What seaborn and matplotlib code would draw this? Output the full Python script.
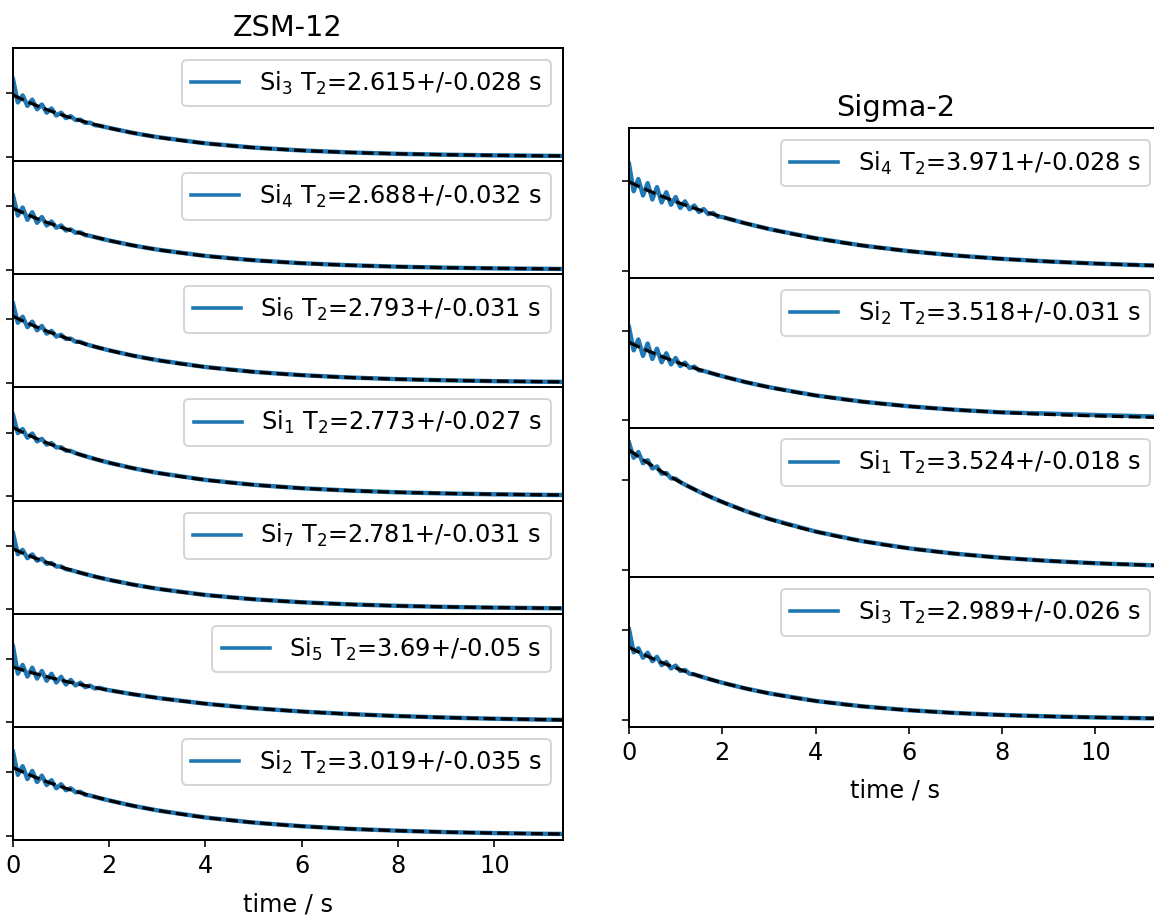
import numpy as np
import pandas as pd
import matplotlib
matplotlib.use("Agg")
import matplotlib.pyplot as plt
import seaborn as sns

# ---------------- data ----------------
time = [0.0, 0.1, 0.2, 0.3, 0.4, 0.5, 0.6, 0.7, 0.8, 0.9, 1.0, 1.1, 1.2, 1.3, 1.4,
        1.5, 1.6, 1.7, 1.8, 1.9, 2.0, 2.5, 3.0, 4.0, 5.0, 6.0, 7.0, 8.0, 9.0, 10.0,
        11.0, 11.5]

zsm_sites = ["3", "4", "6", "1", "7", "5", "2"]
zsm_t2 = [2.615, 2.688, 2.793, 2.773, 2.781, 3.69, 3.019]
zsm_err = [0.028, 0.032, 0.031, 0.027, 0.031, 0.05, 0.035]
zsm_amp = [0.97, 0.97, 1.05, 1.08, 0.95, 0.87, 1.07]

zsm_si3 = [1.22, .854, .964, .800, .897, .746, .821, .692, .759, .648, .692, .607, .638, .575,
           .583, .532, .536, .496, .487, .469, .452, .373, .308, .210, .143, .098, .067, .045,
           .031, .021, .014, .012]
zsm_si4 = [1.17, .855, .980, .788, .906, .740, .831, .698, .760, .664, .699, .619, .636, .583,
           .591, .545, .535, .515, .497, .478, .461, .383, .318, .219, .151, .104, .072, .049,
           .034, .023, .016, .013]
zsm_si6 = [1.25, .948, 1.042, .878, .965, .828, .897, .777, .819, .731, .759, .693, .698, .649,
           .646, .614, .592, .571, .551, .532, .513, .429, .359, .251, .175, .123, .086, .060,
           .042, .029, .020, .017]
zsm_si1 = [1.28, .992, 1.055, .919, .985, .862, .900, .809, .834, .766, .768, .716, .711, .676,
           .652, .629, .607, .585, .564, .544, .525, .438, .366, .255, .178, .124, .087, .060,
           .042, .029, .020, .017]
zsm_si7 = [1.20, .866, .934, .803, .863, .764, .796, .714, .728, .672, .673, .630, .617, .595,
           .574, .554, .534, .515, .497, .480, .463, .387, .323, .225, .157, .110, .077, .054,
           .037, .026, .018, .015]
zsm_si5 = [1.20, .767, .904, .722, .861, .690, .809, .655, .765, .627, .718, .596, .668, .582,
           .625, .554, .579, .534, .544, .520, .506, .442, .386, .294, .224, .171, .131, .100,
           .076, .058, .044, .039]
zsm_si2 = [1.32, .955, 1.091, .889, 1.017, .842, .942, .794, .871, .744, .808, .713, .744, .681,
           .688, .641, .630, .609, .589, .570, .552, .467, .396, .284, .204, .147, .105, .076,
           .054, .039, .028, .024]
zsm_signals = [zsm_si3, zsm_si4, zsm_si6, zsm_si1, zsm_si7, zsm_si5, zsm_si2]

sig_sites = ["4", "2", "1", "3"]
sig_t2 = [3.971, 3.518, 3.524, 2.989]
sig_err = [0.028, 0.031, 0.018, 0.026]
sig_amp = [0.99, 0.87, 1.34, 0.81]

sig_si4 = [1.19, .885, 1.021, .838, .975, .793, .931, .760, .874, .734, .820, .700, .772, .684,
           .726, .654, .687, .630, .644, .603, .598, .527, .465, .362, .281, .218, .170, .132,
           .103, .080, .062, .055]
sig_si2 = [1.04, .781, .902, .719, .857, .685, .799, .648, .748, .624, .695, .606, .644, .586,
           .599, .558, .552, .537, .522, .507, .493, .427, .371, .279, .210, .158, .119, .090,
           .077, .061, .048, .043]
sig_si1 = [1.42, 1.252, 1.316, 1.191, 1.226, 1.133, 1.155, 1.074, 1.083, 1.023, 1.019, .981,
           .953, .927, .901, .875, .851, .827, .804, .782, .760, .659, .572, .431, .324, .244,
           .184, .138, .104, .078, .059, .051]
sig_si3 = [1.01, .753, .798, .693, .749, .655, .703, .611, .645, .574, .605, .546, .557, .514,
           .507, .490, .474, .459, .444, .429, .415, .351, .297, .212, .152, .109, .078, .056,
           .040, .029, .020, .017]
sig_signals = [sig_si4, sig_si2, sig_si1, sig_si3]

titles = ["ZSM-12", "Sigma-2"]
xlabel = "time / s"
xticks = [0, 2, 4, 6, 8, 10]

# ---------------- figure ----------------
W, H, DPI = 1154, 917, 144
fig = plt.figure(figsize=(W / DPI, H / DPI), dpi=DPI)
plt.rcParams["font.size"] = 12

XMAX = 11.43
tfit = np.linspace(0, XMAX, 400)


def draw_column(x0, width, top, ph, ylim, sites, t2s, errs, amps, signals, title):
    n = len(sites)
    for i in range(n):
        y_top = top + i * ph
        rect = [x0 / W, 1 - (y_top + ph) / H, width / W, ph / H]
        ax = fig.add_axes(rect)
        df = pd.DataFrame({"t": time, "signal": signals[i]})
        sns.lineplot(data=df, x="t", y="signal", ax=ax, color="#1f77b4", lw=2.2,
                     estimator=None, sort=False, legend=False)
        fit = pd.DataFrame({"t": tfit, "fit": amps[i] * np.exp(-tfit / t2s[i])})
        sns.lineplot(data=fit, x="t", y="fit", ax=ax, color="black", lw=1.6,
                     linestyle="--", estimator=None, sort=False, legend=False)
        label = f"Si$_{sites[i]}$ T$_2$={t2s[i]}+/-{errs[i]} s"
        leg = ax.legend([ax.lines[0]], [label], loc="upper right", fontsize=12)
        leg.get_lines()[0].set_linewidth(1.8)
        ax.set_xlim(0, XMAX)
        ax.set_ylim(*ylim)
        ax.set_yticks([0, 1])
        ax.set_yticklabels([])
        ax.set_ylabel("")
        ax.set_xticks(xticks)
        for sp in ax.spines.values():
            sp.set_linewidth(1.0)
        if i < n - 1:
            ax.tick_params(labelbottom=False)
            ax.set_xlabel("")
        else:
            ax.set_xlabel(xlabel, labelpad=7)
        if i == 0:
            ax.set_title(title, fontsize=14.4)


draw_column(13, 550, 48, 792 / 7, (-0.07, 1.71), zsm_sites, zsm_t2, zsm_err, zsm_amp,
            zsm_signals, titles[0])
draw_column(629, 533, 128, 599 / 4, (-0.078, 1.589), sig_sites, sig_t2, sig_err, sig_amp,
            sig_signals, titles[1])

fig.savefig("out.png", dpi=DPI)
